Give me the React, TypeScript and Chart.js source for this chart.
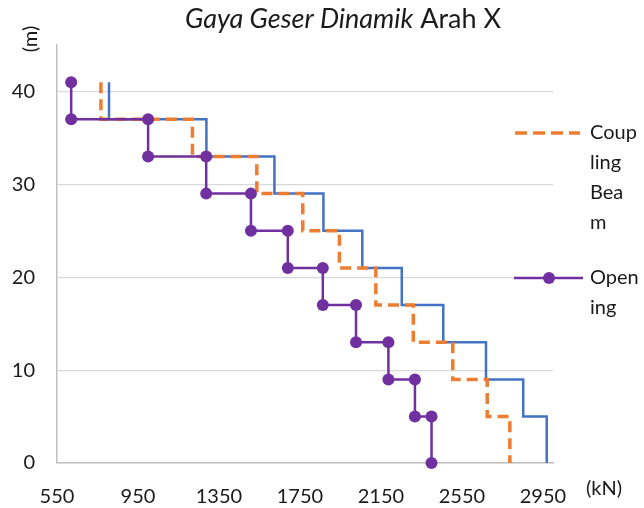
import React, { useEffect, useRef } from 'react';
import { Chart, registerables } from 'chart.js';

Chart.register(...registerables);

// ---- data ----
const storeyLevels = [41, 37, 33, 29, 25, 21, 17, 13, 9, 5, 0];
const blueShear = [807, 1288, 1624, 1866, 2058, 2253, 2458, 2669, 2853, 2969];
const couplingBeamShear = [767, 1219, 1537, 1764, 1945, 2125, 2310, 2505, 2675, 2787];
const openingShear = [620, 1000, 1287, 1508, 1690, 1863, 2027, 2187, 2318, 2400];
const xTicks = [550, 950, 1350, 1750, 2150, 2550, 2950];
const yTicks = [0, 10, 20, 30, 40];
const titleItalic = 'Gaya Geser Dinamik';
const titleNormal = ' Arah X';
const yAxisTitle = '(m)';
const xAxisTitle = '(kN)';
const couplingLabelLines = ['Coup', 'ling', 'Bea', 'm'];
const openingLabelLines = ['Open', 'ing'];

const FONT = 'Lato';
const BLUE = '#4472C4';
const ORANGE = '#ED7D31';
const PURPLE = '#7030A0';
const TEXT = '#1a1a1a';

function stepPoints(values: number[]) {
  const pts: { x: number; y: number }[] = [];
  values.forEach((v, i) => {
    pts.push({ x: v, y: storeyLevels[i] });
    pts.push({ x: v, y: storeyLevels[i + 1] });
  });
  return pts;
}

const decorPlugin = {
  id: 'decor',
  afterDraw(chart: any) {
    const ctx = chart.ctx as CanvasRenderingContext2D;
    ctx.save();
    ctx.fillStyle = TEXT;
    ctx.textBaseline = 'middle';

    // title
    const tSize = 27;
    ctx.font = `italic ${tSize}px ${FONT}`;
    const w1 = ctx.measureText(titleItalic).width;
    ctx.font = `${tSize}px ${FONT}`;
    const w2 = ctx.measureText(titleNormal).width;
    const tx = 343 - (w1 + w2) / 2;
    ctx.textAlign = 'left';
    ctx.font = `italic ${tSize}px ${FONT}`;
    ctx.fillText(titleItalic, tx, 19);
    ctx.font = `${tSize}px ${FONT}`;
    ctx.fillText(titleNormal, tx + w1, 19);

    // y axis title (rotated)
    ctx.save();
    ctx.translate(31, 39);
    ctx.rotate(-Math.PI / 2);
    ctx.textAlign = 'center';
    ctx.font = `20px ${FONT}`;
    ctx.fillText(yAxisTitle, 0, 0);
    ctx.restore();

    // x axis title
    ctx.textAlign = 'center';
    ctx.font = `20px ${FONT}`;
    ctx.fillText(xAxisTitle, 604, 489);

    // legend: coupling beam
    ctx.save();
    ctx.strokeStyle = ORANGE;
    ctx.lineWidth = 3.5;
    ctx.setLineDash([12, 6]);
    ctx.beginPath();
    ctx.moveTo(515, 133);
    ctx.lineTo(580, 133);
    ctx.stroke();
    ctx.restore();
    ctx.textAlign = 'left';
    ctx.font = `20px ${FONT}`;
    couplingLabelLines.forEach((t, i) => ctx.fillText(t, 590, 133 + i * 30));

    // legend: opening
    ctx.save();
    ctx.strokeStyle = PURPLE;
    ctx.lineWidth = 2.5;
    ctx.beginPath();
    ctx.moveTo(514, 278);
    ctx.lineTo(583, 278);
    ctx.stroke();
    ctx.fillStyle = PURPLE;
    ctx.beginPath();
    ctx.arc(549, 278, 6, 0, Math.PI * 2);
    ctx.fill();
    ctx.restore();
    openingLabelLines.forEach((t, i) => ctx.fillText(t, 590, 278 + i * 30));

    ctx.restore();
  },
};

export default function App() {
  const ref = useRef<HTMLCanvasElement | null>(null);

  useEffect(() => {
    const canvas = ref.current;
    if (!canvas) return;
    const chart = new Chart(canvas, {
      type: 'scatter',
      data: {
        datasets: [
          {
            label: 'Opening',
            data: stepPoints(openingShear),
            showLine: true,
            borderColor: PURPLE,
            backgroundColor: PURPLE,
            borderWidth: 2.5,
            pointRadius: 6,
            pointHoverRadius: 6,
            pointBorderWidth: 0,
            pointBackgroundColor: PURPLE,
            order: 0,
            clip: false,
          },
          {
            label: 'Coupling Beam',
            data: stepPoints(couplingBeamShear),
            showLine: true,
            borderColor: ORANGE,
            backgroundColor: ORANGE,
            borderWidth: 3.5,
            borderDash: [11, 6],
            pointRadius: 0,
            order: 1,
            clip: false,
          },
          {
            label: '',
            data: stepPoints(blueShear),
            showLine: true,
            borderColor: BLUE,
            backgroundColor: BLUE,
            borderWidth: 2.5,
            pointRadius: 0,
            order: 2,
            clip: false,
          },
        ],
      },
      options: {
        responsive: false,
        animation: false,
        events: [],
        layout: { padding: { top: 45, right: 91, left: 0, bottom: 0 } },
        plugins: {
          legend: { display: false },
          title: { display: false },
          tooltip: { enabled: false },
        },
        scales: {
          x: {
            type: 'linear',
            min: 550,
            max: 3000,
            afterBuildTicks: (scale: any) => {
              scale.ticks = xTicks.map((v) => ({ value: v }));
            },
            afterFit: (scale: any) => {
              scale.height = 45;
            },
            grid: { display: true, drawOnChartArea: false, drawTicks: false },
            border: { display: true, color: '#bfbfbf', width: 1.5 },
            ticks: {
              color: TEXT,
              font: { family: FONT, size: 20 },
              padding: 22,
              maxRotation: 0,
              autoSkip: false,
              callback: (v: any) => String(v),
            },
          },
          y: {
            type: 'linear',
            min: 0,
            max: 45,
            afterBuildTicks: (scale: any) => {
              scale.ticks = yTicks.map((v) => ({ value: v }));
            },
            afterFit: (scale: any) => {
              scale.width = 57;
            },
            grid: {
              color: '#d9d9d9',
              lineWidth: 1.2,
              drawTicks: false,
            },
            border: { display: true, color: '#bfbfbf', width: 1.5 },
            ticks: {
              color: TEXT,
              font: { family: FONT, size: 20 },
              padding: 22,
              autoSkip: false,
              callback: (v: any) => String(v),
            },
          },
        },
      },
      plugins: [decorPlugin],
    } as any);
    return () => chart.destroy();
  }, []);

  return (
    <div style={{ position: 'absolute', left: 0, top: 0, width: 644, height: 508, background: '#fff' }}>
      <canvas ref={ref} width={644} height={508} style={{ display: 'block' }} />
    </div>
  );
}
